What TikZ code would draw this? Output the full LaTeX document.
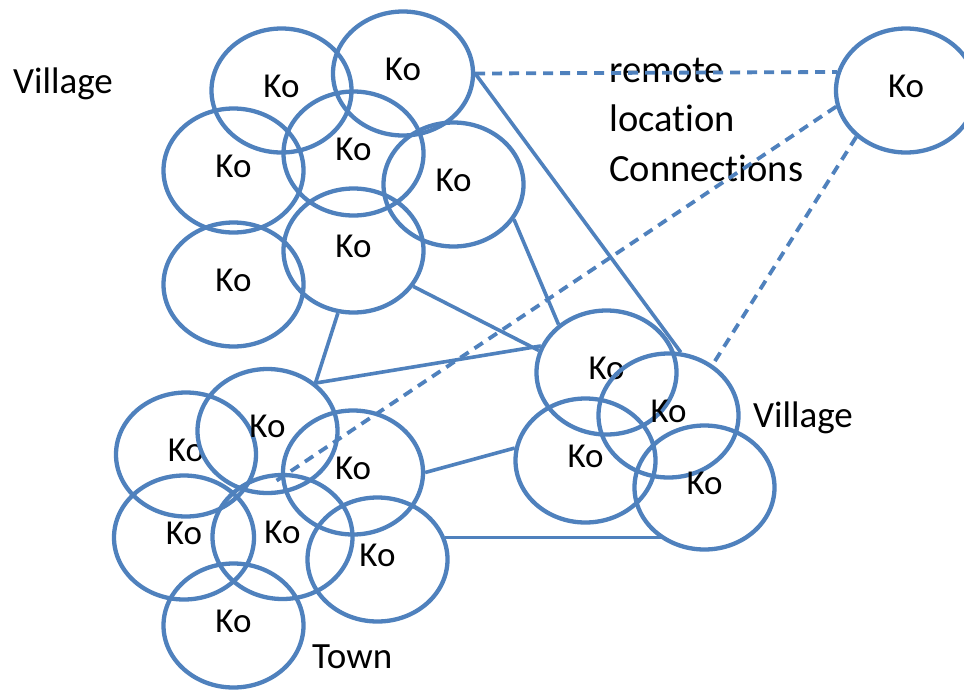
\documentclass[tikz,border=0pt]{standalone}
\usepackage{fontspec}
\setmainfont{Carlito}[Ligatures=NoCommon]
\usetikzlibrary{shapes.geometric}
\definecolor{kblue}{RGB}{79,129,189}
\begin{document}
\begin{tikzpicture}[x=1pt,y=-1pt,
  kobox/.style={ellipse,draw=kblue,line width=4.3pt,minimum width=140pt,minimum height=124pt,inner sep=0pt,
    font=\fontsize{35}{42}\selectfont,text height=20pt,text depth=7pt},
  link/.style={draw=kblue,line width=3.6pt},
  remotelink/.style={draw=kblue,line width=3.8pt,dash pattern=on 10pt off 7pt},
  lbl/.style={font=\fontsize{37}{49.5}\selectfont,inner sep=0pt}]
\clip (0,0) rectangle (964,689);
\fill[white] (0,0) rectangle (964,689);
% texts
\node[lbl,anchor=base west] (v1) at (13,93) {Village};
\node[lbl,anchor=base west] (v2) at (753,427) {Village};
\node[lbl,anchor=base west] (town) at (312,668) {Town};
\node[lbl,anchor=base west,align=left,font=\fontsize{38.5}{49.5}\selectfont] (rem) at (609,181) {remote\\location\\Connections};
% upper village
\node[kobox] (A) at (281.5,90.5) {Ko};
\node[kobox] (B) at (403,73.5) {Ko};
\node[kobox] (C) at (233.5,170.5) {Ko};
\node[kobox] (D) at (353.5,153.5) {Ko};
\node[kobox] (E) at (453.5,184.5) {Ko};
\node[kobox] (F) at (233.5,284.5) {Ko};
\node[kobox] (G) at (353.5,250.5) {Ko};
% town
\node[kobox] (H) at (186,454.5) {Ko};
\node[kobox] (I) at (267.5,431) {Ko};
\node[kobox] (J) at (353,472.5) {Ko};
\node[kobox] (K) at (184,537.5) {Ko};
\node[kobox] (L) at (282.5,537) {Ko};
\node[kobox] (M) at (377.5,559.5) {Ko};
\node[kobox] (N) at (233.5,625.5) {Ko};
% right village
\node[kobox] (O) at (606.5,372.5) {Ko};
\node[kobox] (P) at (668.5,415.5) {Ko};
\node[kobox] (Q) at (585.5,460.5) {Ko};
\node[kobox] (R) at (704.5,487.5) {Ko};
% remote
\node[kobox] (S) at (906,90.5) {Ko};
\coordinate (dashend) at (273,483);
% solid connections
\draw[link] (B.east) -- (P.79);
\draw[link] (E.-30) -- (O.135);
\draw[link] (G.-31) -- (O.162);
\draw[link] (G.-104) -- (I.45);
\draw[link] (I.45) -- (O.158);
\draw[link] (J.0) -- (Q.170);
\draw[link] (M.18) -- (M.18 -| R.-126);
% remote connections
\draw[remotelink] (B.east) -- (S.165);
\draw[remotelink] (S.193) -- (dashend);
\draw[remotelink] (S.-137) -- (P.49);
\end{tikzpicture}
\end{document}
